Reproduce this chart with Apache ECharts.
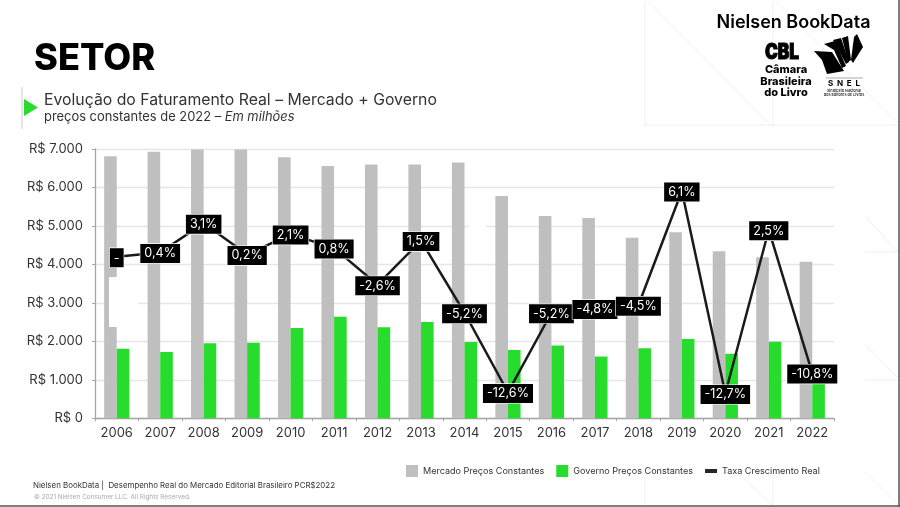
<!DOCTYPE html>
<html>
<head>
<meta charset="UTF-8">
<title>Setor</title>
<script src="https://cdn.jsdelivr.net/npm/echarts@6/dist/echarts.min.js"></script>
<style>
html,body{margin:0;padding:0;background:#fff;}
#chart{width:900px;height:507px;}
</style>
</head>
<body>
<div id="chart"></div>
<script type="text/javascript">
var years = ['2006','2007','2008','2009','2010','2011','2012','2013','2014','2015','2016','2017','2018','2019','2020','2021','2022'];
var mercado = [6810,6930,6985,6985,6785,6560,6600,6600,6650,5780,5260,5205,4690,4835,4340,4185,4070];
var governo = [1810,1725,1950,1965,2350,2640,2365,2505,1985,1775,1895,1605,1820,2060,1680,1990,1390];
var taxa = [0,0.4,3.1,0.2,2.1,0.8,-2.6,1.5,-5.2,-12.6,-5.2,-4.8,-4.5,6.1,-12.7,2.5,-10.8];
var taxaLabels = ['-','0,4%','3,1%','0,2%','2,1%','0,8%','-2,6%','1,5%','-5,2%','-12,6%','-5,2%','-4,8%','-4,5%','6,1%','-12,7%','2,5%','-10,8%'];

var font = 'Inter';
var faint = '#f0f0f0';

function line(x1,y1,x2,y2,color,width){
	return {type:'line',z:-1,silent:true,shape:{x1:x1,y1:y1,x2:x2,y2:y2},style:{stroke:color||faint,lineWidth:width||1}};
}
function txt(x,y,text,size,weight,color,align,extra){
	var style = {x:x,y:y,text:text,fontFamily:font,fontSize:size,fontWeight:weight,fill:color,align:align||'left',verticalAlign:'middle'};
	if(extra){ for(var k in extra){ style[k] = extra[k]; } }
	return {type:'text',z:6,silent:true,style:style};
}
function poly(points,color){
	return {type:'polygon',z:6,silent:true,shape:{points:points},style:{fill:color||'#000'}};
}

var decor = [
	// linhas de fundo
	line(645,0,645,127), line(773,0,773,127), line(645,125,898,125),
	line(647,0,773,127), line(775,0,898,123),
	line(645,470,645,505), line(773,470,773,505),
	line(740,475,772,505), line(865,472,898,505),
	line(865,216,898,252), line(865,252,898,252),
	line(865,344,898,378), line(865,380,898,380),
	// moldura
	line(899,0,899,507,'#555',1.5), line(0,506,900,506,'#555',1.5),
	// remendos brancos do original
	{type:'rect',z:3,silent:true,shape:{x:109,y:277,width:29,height:50},style:{fill:'#fff'}},
	{type:'rect',z:3,silent:true,shape:{x:469,y:220,width:17,height:12},style:{fill:'#fff'}},
	// titulos
	txt(34,59,'SETOR',36.2,800,'#000'),
	line(22,87,22,129,'#cccccc',1),
	poly([[24,99],[38,107.5],[24,116]],'#27dc2c'),
	txt(44,100,'Evolução do Faturamento Real – Mercado + Governo',15.8,400,'#333'),
	{type:'text',z:6,silent:true,style:{x:44,y:117,verticalAlign:'middle',text:'preços constantes de 2022 – {i|Em milhões}',fontFamily:font,fontSize:12.9,fill:'#333',
		rich:{i:{fontStyle:'italic',fontFamily:font,fontSize:12.9,fill:'#333'}}}},
	// logos
	txt(793.5,23,'Nielsen BookData',18,600,'#000','center'),
	{type:'text',z:6,silent:true,x:782,y:53,scaleX:0.82,style:{x:0,y:0,text:'CBL',fontFamily:font,fontSize:21,fontWeight:900,fill:'#000',stroke:'#000',lineWidth:1,align:'center',verticalAlign:'middle'}},
	txt(786,70,'Câmara',11,800,'#000','center'),
	txt(786,82,'Brasileira',11,800,'#000','center'),
	txt(786,93,'do Livro',11,800,'#000','center'),
	poly([[814,51],[832,52],[844,71],[827,74],[822,60]]),
	poly([[824,44],[835,41],[846,66],[842,68],[834,50]]),
	poly([[833,40],[841,38],[849,62],[846,64]]),
	poly([[842,38],[848,36],[851,60],[848,62]]),
	poly([[854,37],[857,34],[863,47],[853,63],[851,60]]),
	line(826,78,863,78,'#888',0.7),
	txt(844,84,'S  N  E  L',8,700,'#000','center'),
	txt(844,90.5,'Sindicato Nacional',3.8,600,'#333','center'),
	txt(844,94.5,'dos Editores de Livros',3.8,600,'#333','center'),
	// rodape
	txt(33,486,'Nielsen BookData |  Desempenho Real do Mercado Editorial Brasileiro PCR$2022',7.9,400,'#333'),
	txt(34,497,'© 2021 Nielsen Consumer LLC. All Rights Reserved.',6.4,400,'#aaaaaa')
];

var chart = echarts.init(document.getElementById('chart'));
var option = {
	animation:false,
	backgroundColor:'#fff',
	textStyle:{fontFamily:font},
	graphic:{elements:decor},
	grid:{left:95,right:66,top:149,bottom:88.7,containLabel:false},
	legend:{
		left:401,top:460,itemWidth:12,itemHeight:12,itemGap:12,
		textStyle:{fontSize:9.05,color:'#333',fontFamily:font},
		data:[
			{name:'Mercado Preços Constantes',icon:'rect'},
			{name:'Governo Preços Constantes',icon:'rect'},
			{name:'Taxa Crescimento Real',icon:'path://M0,4H12V8H0Z'}
		]
	},
	xAxis:{
		type:'category',data:years,
		axisLine:{lineStyle:{color:'#a6a6a6',width:1.3}},
		axisTick:{show:true,alignWithLabel:false,length:3,lineStyle:{color:'#a6a6a6',width:1}},
		axisLabel:{color:'#333',fontSize:13,margin:8,interval:0,fontFamily:font}
	},
	yAxis:[
		{
			type:'value',min:0,max:7000,interval:1000,
			axisLine:{show:true,lineStyle:{color:'#a6a6a6',width:1.3}},
			axisTick:{show:true,length:3,lineStyle:{color:'#a6a6a6',width:1}},
			splitLine:{lineStyle:{color:'#e6e6e6',width:1.3}},
			axisLabel:{color:'#333',fontSize:13,margin:12,fontFamily:font,
				formatter:function(v){ return 'R$ '+String(v).replace(/\B(?=(\d{3})+$)/g,'.'); }}
		},
		{type:'value',min:-15,max:10,interval:5,show:false,splitLine:{show:false}}
	],
	series:[
		{name:'Mercado Preços Constantes',type:'bar',data:mercado,barWidth:12.6,barGap:0,itemStyle:{color:'#bfbfbf'}},
		{name:'Governo Preços Constantes',type:'bar',data:governo,barWidth:12.6,barGap:0,itemStyle:{color:'#27dc2c'}},
		{
			name:'Taxa Crescimento Real',type:'line',yAxisIndex:1,data:taxa,z:5,
			symbol:'circle',symbolSize:1,showAllSymbol:true,
			lineStyle:{color:'#1a1a1a',width:2.5},
			itemStyle:{color:'#262626'},
			label:{
				show:true,position:'inside',offset:[0,1],color:'#fff',fontSize:12.6,fontFamily:font,
				backgroundColor:'#000',borderColor:'#fff',borderWidth:0.6,padding:[3,4],
				formatter:function(p){ return taxaLabels[p.dataIndex]; }
			}
		}
	]
};
chart.setOption(option);
</script>
</body>
</html>
